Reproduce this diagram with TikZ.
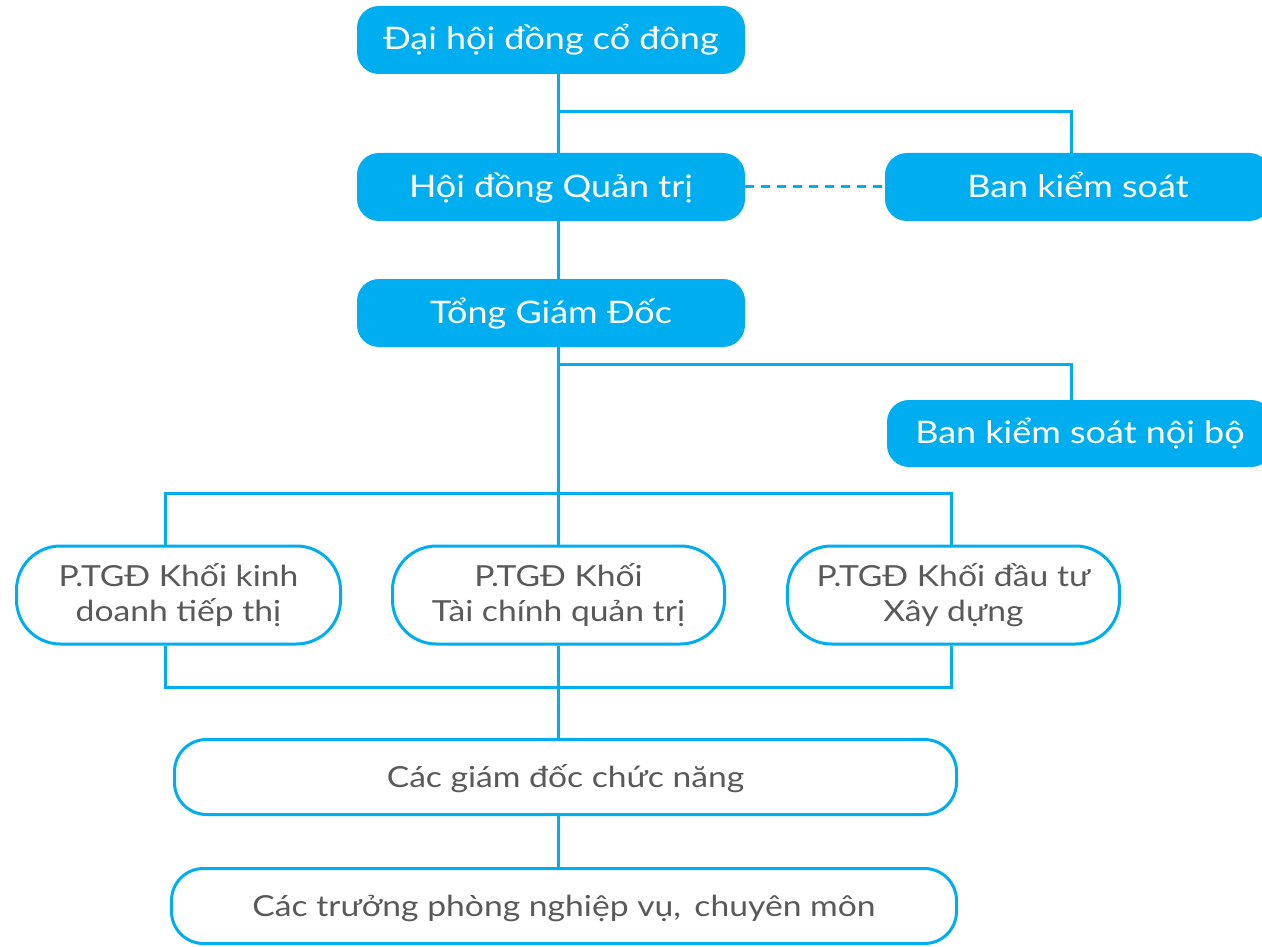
\documentclass[tikz,border=0pt]{standalone}
\usepackage{fontspec}
\setmainfont{Lato}[FakeStretch=1.16]
\definecolor{orgblue}{HTML}{00AEEF}
\definecolor{orggray}{HTML}{595959}
\begin{document}
\begin{tikzpicture}[x=1pt, y=-1pt,
	link/.style={orgblue, line width=3pt},
	solidbox/.style={rectangle, fill=orgblue, text=white, rounded corners=22pt, minimum height=68pt, text height=24pt, text depth=4pt, font=\fontsize{31}{36}\selectfont},
	openbox/.style={rectangle, draw=orgblue, line width=3pt, fill=white, text=orggray, align=center, font=\fontsize{29}{35}\selectfont},
	twoline/.style={openbox, minimum height=98pt, rounded corners=44pt},
	wideline/.style={openbox, minimum height=75pt, rounded corners=32pt, text height=24pt, text depth=4pt}]
	\path[use as bounding box, clip] (0,0) rectangle (1262,947);
	\coordinate (j1) at (558,112);
	\coordinate (c1) at (1071,112);
	\coordinate (j2) at (558,364);
	\coordinate (e1) at (1071,364);
	\coordinate (b1) at (165,493);
	\coordinate (b2) at (951,493);
	\coordinate (b3) at (165,687);
	\coordinate (b4) at (951,687);
	\node [solidbox, minimum width=388pt] (dhcd) at (551,40) {Đại hội đồng cổ đông};
	\node [solidbox, minimum width=388pt] (hdqt) at (551,187) {Hội đồng Quản trị};
	\node [solidbox, minimum width=386pt] (bks) at (1078,187) {Ban kiểm soát};
	\node [solidbox, minimum width=388pt] (tgd) at (551,313) {Tổng Giám Đốc};
	\node [solidbox, minimum width=386pt, minimum height=67pt] (bksnb) at (1080,433.5) {Ban kiểm soát nội bộ};
	\node [twoline, minimum width=324pt] (kd) at (178.5,595) {P.TGĐ Khối kinh\\doanh tiếp thị};
	\node [twoline, minimum width=332pt] (tc) at (558.5,595) {P.TGĐ Khối\\Tài chính quản trị};
	\node [twoline, minimum width=332pt] (xd) at (953.5,595) {P.TGĐ Khối đầu tư\\Xây dựng};
	\node [wideline, minimum width=782pt] (gd) at (565.5,777) {Các giám đốc chức năng};
	\node [wideline, minimum width=785pt] (tp) at (564,906) {Các trưởng phòng nghiệp vụ,\, chuyên môn};
	\draw [link] (dhcd.south -| j1) -- (hdqt.north -| j1);
	\draw [link] (j1) -- (c1) -- (c1 |- bks.north);
	\draw [link, dash pattern=on 9pt off 7pt] (hdqt.east) -- (bks.west);
	\draw [link] (hdqt.south -| j1) -- (tgd.north -| j1);
	\draw [link] (tgd.south -| j1) -- (tc.north -| j1);
	\draw [link] (j2) -- (e1) -- (e1 |- bksnb.north);
	\draw [link] (kd.north -| b1) -- (b1) -- (b2) -- (xd.north -| b2);
	\draw [link] (kd.south -| b3) -- (b3) -- (b4) -- (xd.south -| b4);
	\draw [link] (tc.south -| j1) -- (gd.north -| j1);
	\draw [link] (gd.south -| j1) -- (tp.north -| j1);
\end{tikzpicture}
\end{document}
